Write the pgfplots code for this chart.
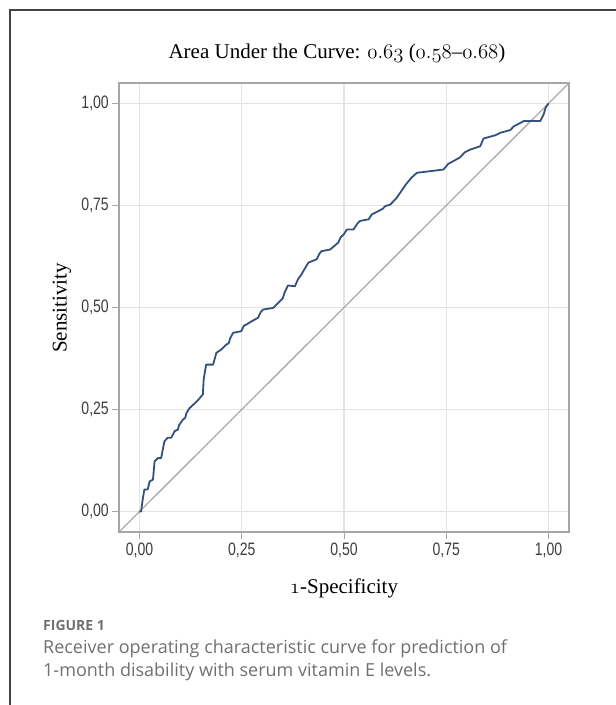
\documentclass[border=0pt]{standalone}
\usepackage{pgfplots}
\pgfplotsset{compat=1.18}
\usepackage{fontspec}
\newfontfamily\capfont{Open Sans}
\newfontfamily\serfont[Ligatures=TeX]{Liberation Serif}
\newfontfamily\tickfont[FakeStretch=0.78]{Liberation Sans}
\newcommand\osn[1]{\ensuremath{\mathnormal{#1}}}
\definecolor{framegray}{HTML}{444444}
\definecolor{gridgray}{HTML}{E4E4E4}
\definecolor{axisgray}{HTML}{A6A6A6}
\definecolor{diaggray}{HTML}{AAAAAA}
\definecolor{curveblue}{HTML}{34507E}
\definecolor{tickgray}{HTML}{3C3C3C}
\definecolor{capgray}{HTML}{707070}
\begin{document}
\begin{tikzpicture}[x=1pt,y=1pt]
\useasboundingbox (0,0) rectangle (616,705);
\draw[framegray, line width=1.3pt] (10,0) -- (10,695) -- (616,695);
\begin{axis}[
  at={(119pt,173pt)}, anchor=south west,
  width=450pt, height=449pt, scale only axis,
  xmin=-0.05, xmax=1.05, ymin=-0.05, ymax=1.05,
  xtick={0,0.25,0.5,0.75,1}, ytick={0,0.25,0.5,0.75,1},
  xticklabels={{0,00},{0,25},{0,50},{0,75},{1,00}},
  yticklabels={{0,00},{0,25},{0,50},{0,75},{1,00}},
  tick align=outside, major tick length=7pt,
  tick style={axisgray, line width=1pt},
  xtick pos=bottom, ytick pos=left,
  grid=major, major grid style={gridgray, line width=1.3pt},
  axis line style={axisgray, line width=1.4pt},
  xticklabel style={font=\tickfont\fontsize{18}{18}\selectfont, text=tickgray, inner sep=4pt},
  yticklabel style={font=\tickfont\fontsize{18}{18}\selectfont, text=tickgray, inner sep=3pt},
]
\addplot[diaggray, line width=1.3pt] coordinates {(-0.05,-0.05) (1.05,1.05)};
\addplot[curveblue, line width=1.8pt, line join=round] coordinates {
(0,0) (0.004,0.0) (0.008,0.030) (0.012,0.054) (0.02,0.054) (0.025,0.074)
(0.033,0.078) (0.037,0.123) (0.045,0.131) (0.053,0.131) (0.061,0.172)
(0.069,0.181) (0.078,0.181) (0.086,0.197) (0.094,0.201) (0.097,0.212)
(0.106,0.225) (0.112,0.230) (0.115,0.242) (0.123,0.254) (0.135,0.265) (0.143,0.273)
(0.155,0.287) (0.157,0.324) (0.163,0.360) (0.180,0.360) (0.188,0.389)
(0.200,0.397) (0.212,0.409) (0.218,0.412) (0.222,0.425) (0.229,0.438) (0.249,0.442)
(0.255,0.455) (0.261,0.458) (0.274,0.466) (0.290,0.475) (0.296,0.488) (0.302,0.495) (0.327,0.499)
(0.343,0.515) (0.350,0.522) (0.355,0.537) (0.363,0.554) (0.380,0.552) (0.388,0.570) (0.396,0.581)
(0.404,0.595) (0.413,0.610) (0.433,0.618) (0.440,0.632) (0.445,0.638) (0.466,0.642) (0.486,0.659)
(0.492,0.672) (0.500,0.680) (0.507,0.691) (0.523,0.691) (0.533,0.706) (0.539,0.712) (0.560,0.716)
(0.568,0.728) (0.576,0.732) (0.595,0.742) (0.600,0.748) (0.613,0.752) (0.629,0.769) (0.640,0.785) (0.650,0.800)
(0.665,0.818) (0.678,0.830) (0.711,0.834) (0.743,0.838) (0.755,0.852) (0.768,0.859)
(0.784,0.868) (0.795,0.880) (0.809,0.887) (0.833,0.895) (0.841,0.914) (0.870,0.922)
(0.882,0.928) (0.907,0.935) (0.915,0.944) (0.923,0.948) (0.940,0.957) (0.980,0.957)
(0.988,0.973) (0.993,0.990) (1.0,1.0)
};
\end{axis}
\node[anchor=base, font=\serfont\fontsize{21}{25}\selectfont] at (337,646)
  {Area Under the Curve: \osn{0.63} (\osn{0.58}–\osn{0.68})};
\node[rotate=90, font=\serfont\fontsize{21}{25}\selectfont] at (62,397) {Sensitivity};
\node[anchor=base, font=\serfont\fontsize{21}{25}\selectfont] at (344,111) {\osn{1}-Specificity};
\node[anchor=base west, inner sep=0pt, text=capgray, font=\capfont\bfseries\fontsize{14}{17}\selectfont] at (43,74) {FIGURE 1};
\node[anchor=base west, inner sep=0pt, text=capgray, font=\capfont\fontsize{18}{21}\selectfont] at (43,51) {Receiver operating characteristic curve for prediction of};
\node[anchor=base west, inner sep=0pt, text=capgray, font=\capfont\fontsize{18}{21}\selectfont] at (43,28) {1-month disability with serum vitamin E levels.};
\end{tikzpicture}
\end{document}
